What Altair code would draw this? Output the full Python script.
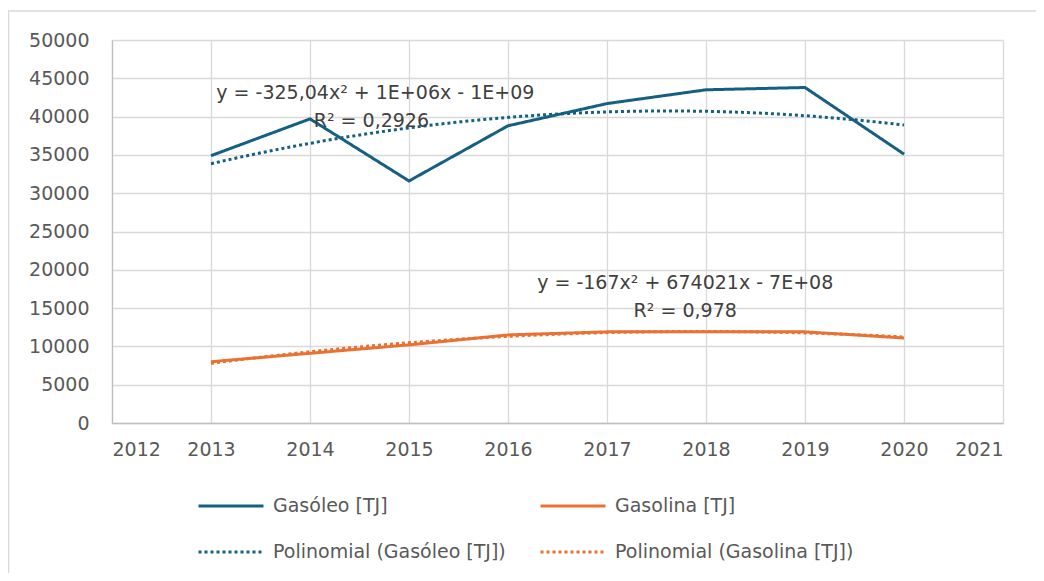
import altair as alt
import pandas as pd

years = [2013, 2014, 2015, 2016, 2017, 2018, 2019, 2020]
gasoleo = [34900, 39700, 31600, 38800, 41700, 43500, 43800, 35100]
gasolina = [8000, 9100, 10200, 11500, 11900, 11900, 11900, 11100]
series_names = ["Gasóleo [TJ]", "Gasolina [TJ]"]
trend_names = ["Polinomial (Gasóleo [TJ])", "Polinomial (Gasolina [TJ])"]
colors = ["#156082", "#E97132"]
eq_labels = ["y = -325,04x² + 1E+06x - 1E+09", "R² = 0,2926",
             "y = -167x² + 674021x - 7E+08", "R² = 0,978"]
eq_x = [2014.66, 2014.62, 2017.79, 2017.79]
eq_y = [43050, 39400, 18250, 14600]

rows = []
for name, vals in zip(series_names, [gasoleo, gasolina]):
    for yr, v in zip(years, vals):
        rows.append({"year": yr, "value": v, "series": name, "name": name})
df = pd.DataFrame(rows)
ann = pd.DataFrame({"year": eq_x, "value": eq_y, "label": eq_labels})

# column-major legend grid: row 1 = series, row 2 = trendlines
legend_domain = [series_names[0], trend_names[0], series_names[1], trend_names[1]]
color_scale = alt.Scale(domain=legend_domain, range=[colors[0], colors[0], colors[1], colors[1]])
dash_scale = alt.Scale(domain=legend_domain, range=[[1, 0], [3, 3], [1, 0], [3, 3]])

FONT = "DejaVu Sans"
leg = alt.Legend(title=None, orient="none", legendX=85, legendY=432, columns=2,
                 symbolType="stroke", symbolSize=4225, symbolStrokeWidth=3,
                 labelFontSize=19, labelColor="#595959", labelFont=FONT,
                 labelOffset=8, labelLimit=400, rowPadding=2, columnPadding=28)

x_enc = alt.X("year:Q", scale=alt.Scale(domain=[2012, 2021], nice=False),
              axis=alt.Axis(values=list(range(2012, 2022)), format="d", title=None))
y_enc = alt.Y("value:Q", scale=alt.Scale(domain=[0, 50000], nice=False),
              axis=alt.Axis(values=list(range(0, 50001, 5000)), format="d", title=None))

frame = alt.Chart(pd.DataFrame({"f": [0]})).mark_rect(
    fill=None, stroke="#d9d9d9", strokeWidth=1.5
).encode(x=alt.value(-103.5), x2=alt.value(950), y=alt.value(-29), y2=alt.value(560))

base = alt.Chart(df)
lines = base.mark_line(strokeWidth=3).encode(
    x=x_enc, y=y_enc,
    color=alt.Color("name:N", scale=color_scale, legend=leg),
    strokeDash=alt.StrokeDash("name:N", scale=dash_scale, legend=leg),
)
trend = base.transform_regression(
    "year", "value", method="poly", order=2, groupby=["series"], extent=[2013, 2020]
).transform_calculate(
    name="'Polinomial (' + datum.series + ')'"
).mark_line(strokeWidth=3).encode(
    x=x_enc, y=y_enc,
    color=alt.Color("name:N", scale=color_scale, legend=leg),
    strokeDash=alt.StrokeDash("name:N", scale=dash_scale, legend=leg),
)
texts = alt.Chart(ann).mark_text(fontSize=19, font=FONT, color="#404040").encode(
    x=x_enc, y=y_enc, text="label:N"
)

chart = alt.layer(frame, lines, trend, texts).properties(
    width=891, height=383,
    autosize=alt.AutoSizeParams(type="none"),
    padding={"left": 104, "top": 32, "right": 33, "bottom": 150},
).configure_view(stroke="#d9d9d9").configure_axis(
    gridColor="#d9d9d9", gridWidth=1.3, domainColor="#bfbfbf", domainWidth=1.3,
    ticks=False, labelFontSize=19, labelFont=FONT, labelColor="#595959",
    labelOverlap=False, labelPadding=17,
).configure_axisY(domain=True, labelPadding=23)

chart.save("out.html", embed_options={"renderer": "svg", "actions": False})
